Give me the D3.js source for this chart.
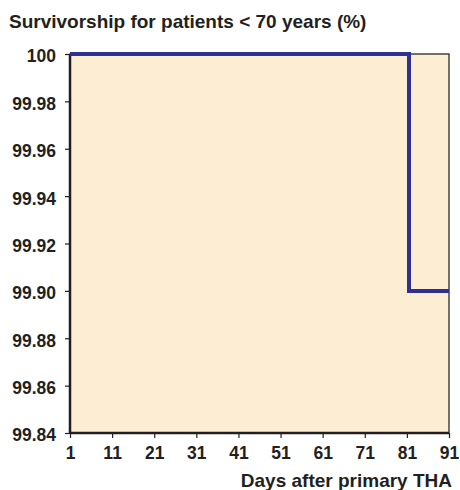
<!doctype html>
<html lang="en">
<head>
<meta charset="utf-8">
<title>Survivorship</title>
<style>
  body { margin: 0; background: #fff; }
  svg text { font-family: "Liberation Sans", Arial, sans-serif; fill: #231f20; }
</style>
</head>
<body>
<svg class="chart"></svg>
<script src="https://d3js.org/d3.v7.min.js"></script>
<script>
// data
var days = [1, 81.5, 91];
var survival = [100, 99.90, 99.90];
var xTicks = [1, 11, 21, 31, 41, 51, 61, 71, 81, 91];
var yTicks = [100, 99.98, 99.96, 99.94, 99.92, 99.90, 99.88, 99.86, 99.84];
var yTickLabels = ["100", "99.98", "99.96", "99.94", "99.92", "99.90", "99.88", "99.86", "99.84"];

var width = 460, height = 490;
var margin = {top: 54, right: 11, bottom: 57, left: 70};

var svg = d3.select(".chart")
    .attr("width", width)
    .attr("height", height);

var x = d3.scaleLinear().domain([1, 91]).range([margin.left, width - margin.right]);
var y = d3.scaleLinear().domain([99.84, 100]).range([height - margin.bottom, margin.top]);

// plot background + top/right frame
svg.append("rect")
    .attr("x", x(1)).attr("y", y(100))
    .attr("width", x(91) - x(1)).attr("height", y(99.84) - y(100))
    .attr("fill", "#fdeed3")
    .attr("stroke", "#444")
    .attr("stroke-width", 1.5);

// axes
var yAxis = svg.append("g")
    .attr("transform", "translate(" + x(1) + ",0)")
    .call(d3.axisLeft(y).tickValues(yTicks).tickSize(5).tickPadding(9)
        .tickFormat(function(d, i) { return yTickLabels[i]; }));
var xAxis = svg.append("g")
    .attr("transform", "translate(0," + y(99.84) + ")")
    .call(d3.axisBottom(x).tickValues(xTicks).tickSize(5).tickPadding(9));

[yAxis, xAxis].forEach(function(g) {
  g.select(".domain").attr("stroke", "#231f20").attr("stroke-width", 2.5);
  g.selectAll(".tick line").attr("stroke", "#231f20").attr("stroke-width", 1.2);
  g.selectAll("text")
      .attr("font-size", 17.5)
      .attr("font-weight", "bold")
      .attr("fill", "#231f20")
      .attr("font-family", "'Liberation Sans', Arial, sans-serif");
});
yAxis.selectAll("text").attr("dy", "0.45em");
yAxis.select(".domain").attr("d", "M0," + y(99.84) + "V" + y(100));
xAxis.select(".domain").attr("d", "M" + x(1) + ",0H" + x(91));

// survival step line
var line = d3.line()
    .x(function(d) { return x(d[0]); })
    .y(function(d) { return y(d[1]); })
    .curve(d3.curveStepAfter);

svg.append("path")
    .datum(d3.zip(days, survival))
    .attr("d", line)
    .attr("fill", "none")
    .attr("stroke", "#2e3192")
    .attr("stroke-width", 4);

// titles
svg.append("text")
    .attr("x", 9).attr("y", 28)
    .attr("font-size", 19)
    .attr("font-weight", "bold")
    .text("Survivorship for patients < 70 years (%)");

svg.append("text")
    .attr("x", 452).attr("y", 487)
    .attr("text-anchor", "end")
    .attr("font-size", 19)
    .attr("font-weight", "bold")
    .text("Days after primary THA");
</script>
</body>
</html>
